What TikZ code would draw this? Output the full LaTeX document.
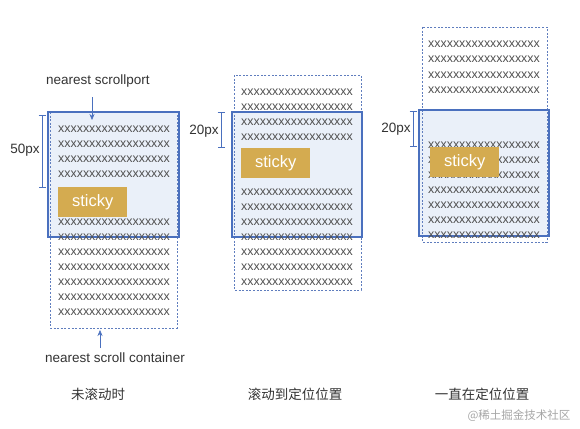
\documentclass[tikz,border=0pt]{standalone}
\usepackage{fontspec}
\setmainfont{Liberation Sans}
\newfontfamily\cjk{Noto Sans CJK SC}
\usepackage{tikz}
\usetikzlibrary{arrows.meta,positioning}
\definecolor{portblue}{RGB}{74,112,190}
\definecolor{portfill}{RGB}{234,240,249}
\definecolor{boxblue}{RGB}{95,125,190}
\definecolor{stickygold}{RGB}{212,171,80}
\definecolor{textgray}{RGB}{80,80,80}
\definecolor{labelgray}{RGB}{51,51,51}

\tikzset{
  xrow/.style={anchor=west, inner sep=0pt, text=textgray, font=\fontsize{12.4}{12.4}\selectfont},
  stickybox/.style={anchor=north west, fill=stickygold, text=white, minimum width=69pt,
    minimum height=30pt, inner sep=0pt, font=\fontsize{16.5}{16.5}\selectfont},
  container/.style={boxblue, dash pattern=on 2pt off 1.6pt, line width=0.8pt},
  port/.style={portblue, line width=1.2pt},
  bracket/.style={portblue, line width=0.8pt, {Bar[width=7pt]}-{Bar[width=7pt]}},
  lbl/.style={text=labelgray, inner sep=0pt, font=\fontsize{13.5}{13.5}\selectfont},
  caption/.style={text=labelgray, inner sep=0pt, font=\cjk\fontsize{13.5}{13.5}\selectfont},
}
\newcommand{\xs}{xxxxxxxxxxxxxxxxxx}

\begin{document}
\begin{tikzpicture}[>={Stealth[length=6pt,width=5pt]}, x=1pt, y=-1pt]
    \useasboundingbox (0,0) rectangle (580,428);

    % 未滚动时
    \coordinate (A1) at (48,112);
    \coordinate (B1) at (179,237);
    \fill[portfill] (A1) rectangle (B1);
    \draw[container] (50,112) rectangle (177,328);
    \draw[port] (A1) rectangle (B1);
    \foreach \y [count=\i] in {129,144,159,174,222,237,252,267,282,297,312}
        \node[xrow] (a\i) at (58,\y) {\xs};
    \node[stickybox] (st1) at (58,187) {sticky};
    \draw[bracket] (42,115) -- (42,188);
    \node[lbl] (h1) at (25,150) {50px};

    % 标注 scrollport 与 scroll container
    \node[lbl] (port) at (98,81) {nearest scrollport};
    \coordinate (portout) at (92,97);
    \coordinate (portin) at (92,120);
    \draw[->, portblue] (portout) -- (portin);
    \node[lbl] (cont) at (115,358) {nearest scroll container};
    \coordinate (contout) at (100,348);
    \coordinate (contin) at (100,330);
    \draw[->, portblue] (contout) -- (contin);

    % 滚动到定位位置
    \coordinate (A2) at (232,112);
    \coordinate (B2) at (362,237);
    \fill[portfill] (A2) rectangle (B2);
    \draw[container] (234,75) rectangle (361,290);
    \draw[port] (A2) rectangle (B2);
    \foreach \y [count=\i] in {92,107,122,137,192,207,222,237,252,267,282}
        \node[xrow] (b\i) at (241,\y) {\xs};
    \node[stickybox] (st2) at (241,148) {sticky};
    \draw[bracket] (221,112) -- (221,148);
    \node[lbl] (h2) at (204,131) {20px};

    % 一直在定位位置
    \coordinate (A3) at (419,110);
    \coordinate (B3) at (549,236);
    \fill[portfill] (A3) rectangle (B3);
    \draw[container] (422,27) rectangle (547,242);
    \draw[port] (A3) rectangle (B3);
    \foreach \y [count=\i] in {44,59,75,90,145,160,175,190,205,220,235}
        \node[xrow] (c\i) at (428,\y) {\xs};
    \node[stickybox] (st3) at (430,147) {sticky};
    \draw[bracket] (413,111) -- (413,147);
    \node[lbl] (h3) at (396,129) {20px};

    % 说明文字
    \node[caption] (cap1) at (98,394) {未滚动时};
    \node[caption] (cap2) at (295,394) {滚动到定位位置};
    \node[caption] (cap3) at (482,394) {一直在定位位置};
    \node[text=black!35, inner sep=0pt, font=\cjk\fontsize{11.5}{11.5}\selectfont] (wm) at (519,416) {@稀土掘金技术社区};
\end{tikzpicture}
\end{document}
